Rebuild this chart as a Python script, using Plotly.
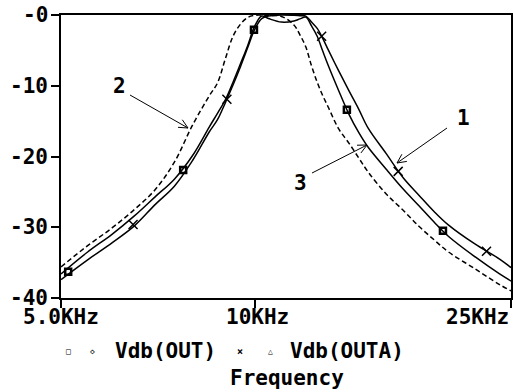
import numpy as np
import plotly.graph_objects as go

# ---------------- data ----------------
freq_khz = [5.0, 5.5, 6.0, 6.5, 7.0, 7.5, 8.0, 8.5, 8.75, 9.0, 9.25, 9.5, 9.75, 10.0,
            10.25, 10.5, 11.0, 11.5, 11.75, 12.0, 12.25, 12.5, 12.75, 13.0, 13.5, 14.0,
            14.5, 15.0, 16.0, 17.0, 18.0, 19.0, 20.0, 22.0, 24.0, 25.0]

# curve 2 (dashed)
vdb_dashed = [-35.6, -32.6, -30.1, -27.5, -24.7, -20.8, -15.6, -11.4, -9.6, -6.2, -3.0, -1.3,
              -0.35, -0.05, -0.02, -0.05, -0.2, -1.4, -2.8, -4.5, -7.2, -9.5, -11.4, -13.0,
              -16.1, -18.1, -20.2, -22.2, -25.3, -27.6, -29.9, -31.8, -33.5, -35.9, -38.1, -39.0]

# Vdb(OUT) (square markers)
vdb_out = [-36.6, -33.5, -31.0, -28.4, -25.7, -23.2, -19.9, -15.8, -13.9, -12.0, -9.5, -6.9,
           -4.3, -1.55, -0.15, -0.5, -1.0, -0.85, -0.55, -0.3, -1.55, -3.0, -5.1, -7.1,
           -10.7, -14.0, -16.6, -18.7, -21.8, -24.6, -27.0, -29.3, -31.3, -34.2, -36.6, -37.6]

# Vdb(OUTA) (x markers)
vdb_outa = [-37.4, -34.6, -32.2, -29.8, -26.8, -24.2, -20.6, -16.5, -14.8, -12.4, -9.9, -7.3,
            -4.6, -2.0, -0.5, -0.15, 0.0, -0.05, -0.1, -0.15, -1.0, -1.9, -3.3, -4.9,
            -7.9, -10.7, -13.3, -16.0, -19.6, -23.0, -25.5, -27.8, -29.7, -32.4, -34.5, -35.7]

out_marker_f = [5.13, 7.74, 9.97, 13.9, 19.6]
out_marker_db = [-36.3, -21.9, -2.1, -13.4, -30.5]
outa_marker_f = [6.47, 9.05, 12.7, 16.7, 22.9]
outa_marker_db = [-29.6, -11.9, -3.0, -22.1, -33.4]

x_tick_vals = [5, 10, 25]
x_tick_text = ["5.0KHz", "10KHz", "25KHz"]
y_tick_vals = [0, -10, -20, -30, -40]
y_tick_text = ["-0", "-10", "-20", "-30", "-40"]

# ---------------- layout geometry ----------------
W, H = 513, 392
L, R, T, B = 61, 2, 15, 94
PW, PH = W - L - R, H - T - B
FONT = "DejaVu Sans Mono"
FS = 21


def px2paper(px, py):
    return (px - L) / PW, (H - B - py) / PH


def tfont(size=FS):
    return dict(family=FONT, size=size, color="black", weight=700)


fig = go.Figure()
fig.add_trace(go.Scatter(x=freq_khz, y=vdb_dashed, mode="lines",
                         line=dict(color="black", width=1.5, dash="5px,3px"),
                         line_shape="spline", showlegend=False))
fig.add_trace(go.Scatter(x=freq_khz, y=vdb_out, mode="lines",
                         line=dict(color="black", width=1.5),
                         line_shape="spline", showlegend=False))
fig.add_trace(go.Scatter(x=freq_khz, y=vdb_outa, mode="lines",
                         line=dict(color="black", width=1.5),
                         line_shape="spline", showlegend=False))
fig.add_trace(go.Scatter(x=out_marker_f, y=out_marker_db, mode="markers",
                         marker=dict(symbol="square-open", size=6, color="black",
                                     line=dict(width=2.5, color="black")),
                         showlegend=False))
fig.add_trace(go.Scatter(x=outa_marker_f, y=outa_marker_db, mode="markers",
                         marker=dict(symbol="x-thin-open", size=9, color="black",
                                     line=dict(width=1.5, color="black")),
                         showlegend=False))

annotations = []
shapes = []

# curve labels with open-V arrows (pixel geometry)
arrows = [("2", (119, 86), (130, 95), (188, 128)),
          ("1", (463, 118), (447, 128), (397, 163)),
          ("3", (300, 183), (312, 173), (367, 145))]
for label, (lx, ly), (tx, ty), (hx, hy) in arrows:
    ax_, ay_ = px2paper(lx, ly)
    annotations.append(dict(text=label, x=ax_, y=ay_, xref="paper", yref="paper",
                            xanchor="center", yanchor="middle",
                            showarrow=False, font=tfont()))
    x0, y0 = px2paper(tx, ty)
    x1, y1 = px2paper(hx, hy)
    shapes.append(dict(type="line", xref="paper", yref="paper", x0=x0, y0=y0, x1=x1, y1=y1,
                       line=dict(color="black", width=1)))
    ang = np.arctan2(ty - hy, tx - hx)
    for d in (0.45, -0.45):
        bx = hx + 10 * np.cos(ang + d)
        by = hy + 10 * np.sin(ang + d)
        bx0, by0 = px2paper(bx, by)
        shapes.append(dict(type="line", xref="paper", yref="paper", x0=x1, y0=y1,
                           x1=bx0, y1=by0, line=dict(color="black", width=1)))

# x tick labels (placed as text under the ticks; the last one right-aligned at the frame)
x_label_px = [61, 257, 511]
x_label_anchor = ["center", "center", "right"]
for txt, cx, anc in zip(x_tick_text, x_label_px, x_label_anchor):
    ax_, ay_ = px2paper(cx, 317)
    annotations.append(dict(text=txt, x=ax_, y=ay_, xref="paper", yref="paper",
                            showarrow=False, xanchor=anc, yanchor="middle", font=tfont()))

# y tick labels, right-aligned just left of the tick marks
for txt, v in zip(y_tick_text, y_tick_vals):
    annotations.append(dict(text=txt, x=-11 / PW, y=v, xref="paper", yref="y",
                            showarrow=False, xanchor="right", yanchor="middle",
                            font=tfont()))

# legend row and axis title
legend_items = [("\u25a1", 68, 8), ("\u25c7", 92, 8), ("Vdb(OUT)", 165, FS),
                ("\u00d7", 240, 10), ("\u25b3", 270, 8), ("Vdb(OUTA)", 347, FS)]
for txt, cx, sz in legend_items:
    ax_, ay_ = px2paper(cx, 351)
    annotations.append(dict(text=txt, x=ax_, y=ay_, xref="paper", yref="paper",
                            showarrow=False, xanchor="center", yanchor="middle",
                            font=tfont(sz)))
ax_, ay_ = px2paper(287, 378)
annotations.append(dict(text="Frequency", x=ax_, y=ay_, xref="paper", yref="paper",
                        showarrow=False, xanchor="center", yanchor="middle", font=tfont()))

axis_common = dict(showline=True, linecolor="black", linewidth=2, mirror=True,
                   ticks="outside", ticklen=8, tickwidth=1.5, tickcolor="black",
                   showgrid=False, zeroline=False, automargin=False,
                   showticklabels=False)

fig.update_layout(
    width=W, height=H,
    margin=dict(l=L, r=R, t=T, b=B, pad=0),
    paper_bgcolor="white", plot_bgcolor="white",
    font=tfont(),
    showlegend=False,
    xaxis=dict(type="log", range=[np.log10(5), np.log10(25)],
               tickmode="array", tickvals=x_tick_vals, **axis_common),
    yaxis=dict(range=[-40, 0], tickmode="array", tickvals=y_tick_vals, **axis_common),
    annotations=annotations,
    shapes=shapes,
)

fig.write_html("out.html")
